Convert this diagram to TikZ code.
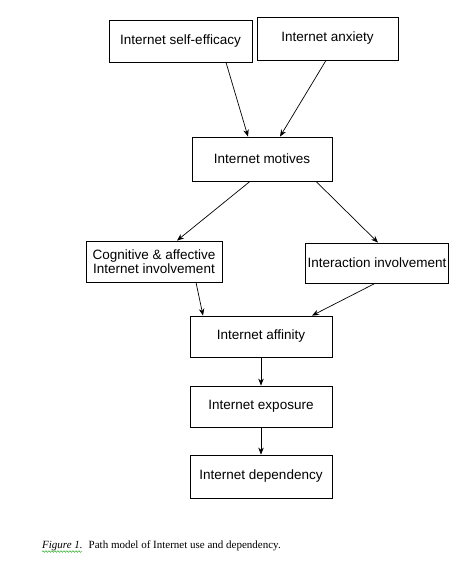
\documentclass[tikz,border=0pt]{standalone}
\usepackage{fontspec}
\setmainfont{Liberation Serif}
\newfontfamily\arialf{Liberation Sans}
\usetikzlibrary{arrows.meta,decorations.pathmorphing}
\tikzset{
  boxnode/.style={draw=black, line width=0.8pt, rectangle, align=center, inner sep=2pt,
    font=\arialf\fontsize{13.5}{15.5}\selectfont, text=black},
  link/.style={draw=black, line width=0.7pt, -{Stealth[length=7pt,width=5.5pt]}},
}
\begin{document}
\begin{tikzpicture}[x=1pt,y=-1pt]
\useasboundingbox[fill=white] (0,0) rectangle (472,577);
\node[boxnode, minimum width=143pt, minimum height=42pt] (se) at (180.5,41) {Internet self-efficacy};
\node[boxnode, minimum width=141pt, minimum height=43pt] (ax) at (327.5,38.5) {Internet anxiety};
\node[boxnode, minimum width=140pt, minimum height=44pt] (mo) at (262,159) {Internet motives};
\node[boxnode, minimum width=136pt, minimum height=41pt] (co) at (154,261.5) {Cognitive \& affective\\[-2pt]Internet involvement};
\node[boxnode, minimum width=142pt, minimum height=40pt] (in) at (377,263) {Interaction involvement};
\node[boxnode, minimum width=142pt, minimum height=41pt] (af) at (261,336.5) {Internet affinity};
\node[boxnode, minimum width=142pt, minimum height=41pt] (ex) at (261,406.5) {Internet exposure};
\node[boxnode, minimum width=142pt, minimum height=43pt] (de) at (261,476.5) {Internet dependency};

\draw[link] ([xshift=45.5pt]se.south) -- ([xshift=-14pt]mo.north);
\draw[link] ([xshift=-1.5pt]ax.south) -- ([xshift=18pt]mo.north);
\draw[link] ([xshift=-12pt]mo.south) -- ([xshift=23pt]co.north);
\draw[link] ([xshift=54pt]mo.south) -- ([xshift=1pt]in.north);
\draw[link] ([xshift=42pt]co.south) -- ([xshift=-58pt]af.north);
\draw[link] ([xshift=-2pt]in.south) -- ([xshift=51pt]af.north);
\draw[link] (af.south) -- (ex.north);
\draw[link] (ex.south) -- (de.north);

\node[anchor=base west, inner sep=0pt, font=\fontsize{11}{13}\selectfont] (cap) at (42,548.5)
  {\textit{Figure 1.}\hspace{6pt}Path model of Internet use and dependency.};
\coordinate (wa) at (42,551.5);
\coordinate (wb) at (82,551.5);
\draw[green!60!black, line width=0.4pt, decorate, decoration={snake, amplitude=0.8pt, segment length=3pt}] (wa) -- (wb);
\end{tikzpicture}
\end{document}
